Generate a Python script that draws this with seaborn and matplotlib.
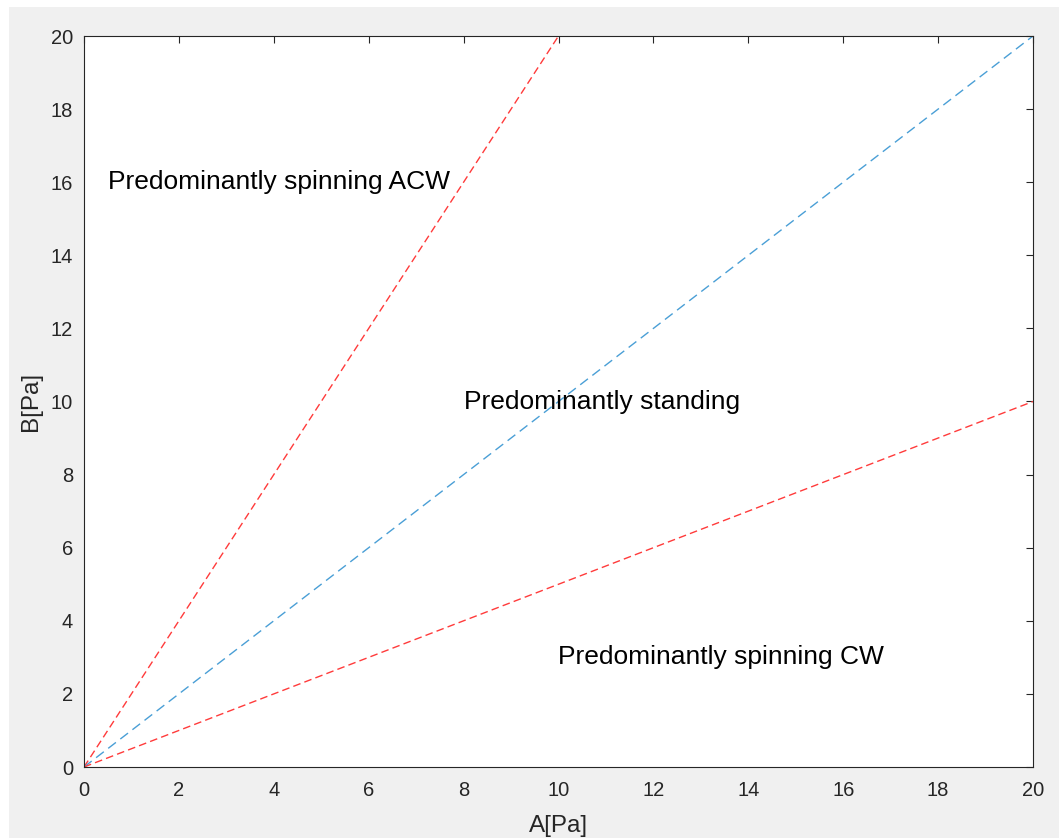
import matplotlib
matplotlib.use("Agg")
import matplotlib.pyplot as plt
from matplotlib.patches import Rectangle
import seaborn as sns
import pandas as pd
import numpy as np

sns.set_theme(style="white")
plt.rcParams['font.family'] = ['Liberation Sans', 'DejaVu Sans']

# Data
a_acw = [0, 10]
b_acw = [0, 20]
a_std = [0, 20]
b_std = [0, 20]
a_cw = [0, 20]
b_cw = [0, 10]
labels = ["Predominantly spinning ACW", "Predominantly standing", "Predominantly spinning CW"]
label_x = [0.5, 8, 10]
label_y = [16, 10, 3]
ticks = [0, 2, 4, 6, 8, 10, 12, 14, 16, 18, 20]

red = "#ff3b3b"
blue = "#4a9fd6"
dark = "#262626"

fig = plt.figure(figsize=(10.59, 8.38), dpi=100, facecolor="#f0f0f0")
# white border strips at top and left of the window capture
fig.patches.append(Rectangle((0, 0), 9/1059, 1, transform=fig.transFigure,
                             facecolor="white", edgecolor="none", zorder=-1))
fig.patches.append(Rectangle((0, 1-7/838), 1, 7/838, transform=fig.transFigure,
                             facecolor="white", edgecolor="none", zorder=-1))

ax = fig.add_axes([84/1059, 1-767/838, (1033-84)/1059, (767-36)/838])
ax.set_facecolor("white")

sns.lineplot(x=a_acw, y=b_acw, ax=ax, color=red, linestyle=(0, (5.5, 3)), linewidth=1.0)
sns.lineplot(x=a_std, y=b_std, ax=ax, color=blue, linestyle=(0, (7, 4)), linewidth=1.0)
sns.lineplot(x=a_cw, y=b_cw, ax=ax, color=red, linestyle=(0, (5.5, 3)), linewidth=1.0)

for t, x, y in zip(labels, label_x, label_y):
    ax.text(x, y, t, fontsize=19, color="black", va="center", ha="left")

ax.set_xlim(0, 20)
ax.set_ylim(0, 20)
ax.set_xticks(ticks)
ax.set_yticks(ticks)
ax.tick_params(direction="in", top=True, right=True, length=5, width=0.8,
               colors=dark, labelsize=14.5)
ax.tick_params(axis="x", pad=10)
ax.tick_params(axis="y", pad=8)
for s in ax.spines.values():
    s.set_color(dark)
    s.set_linewidth(0.8)
ax.set_xlabel("A[Pa]", fontsize=17.5, color=dark, labelpad=11)
ax.set_ylabel("B[Pa]", fontsize=17.5, color=dark, labelpad=6)

fig.savefig("out.png", dpi=100, facecolor=fig.get_facecolor())
